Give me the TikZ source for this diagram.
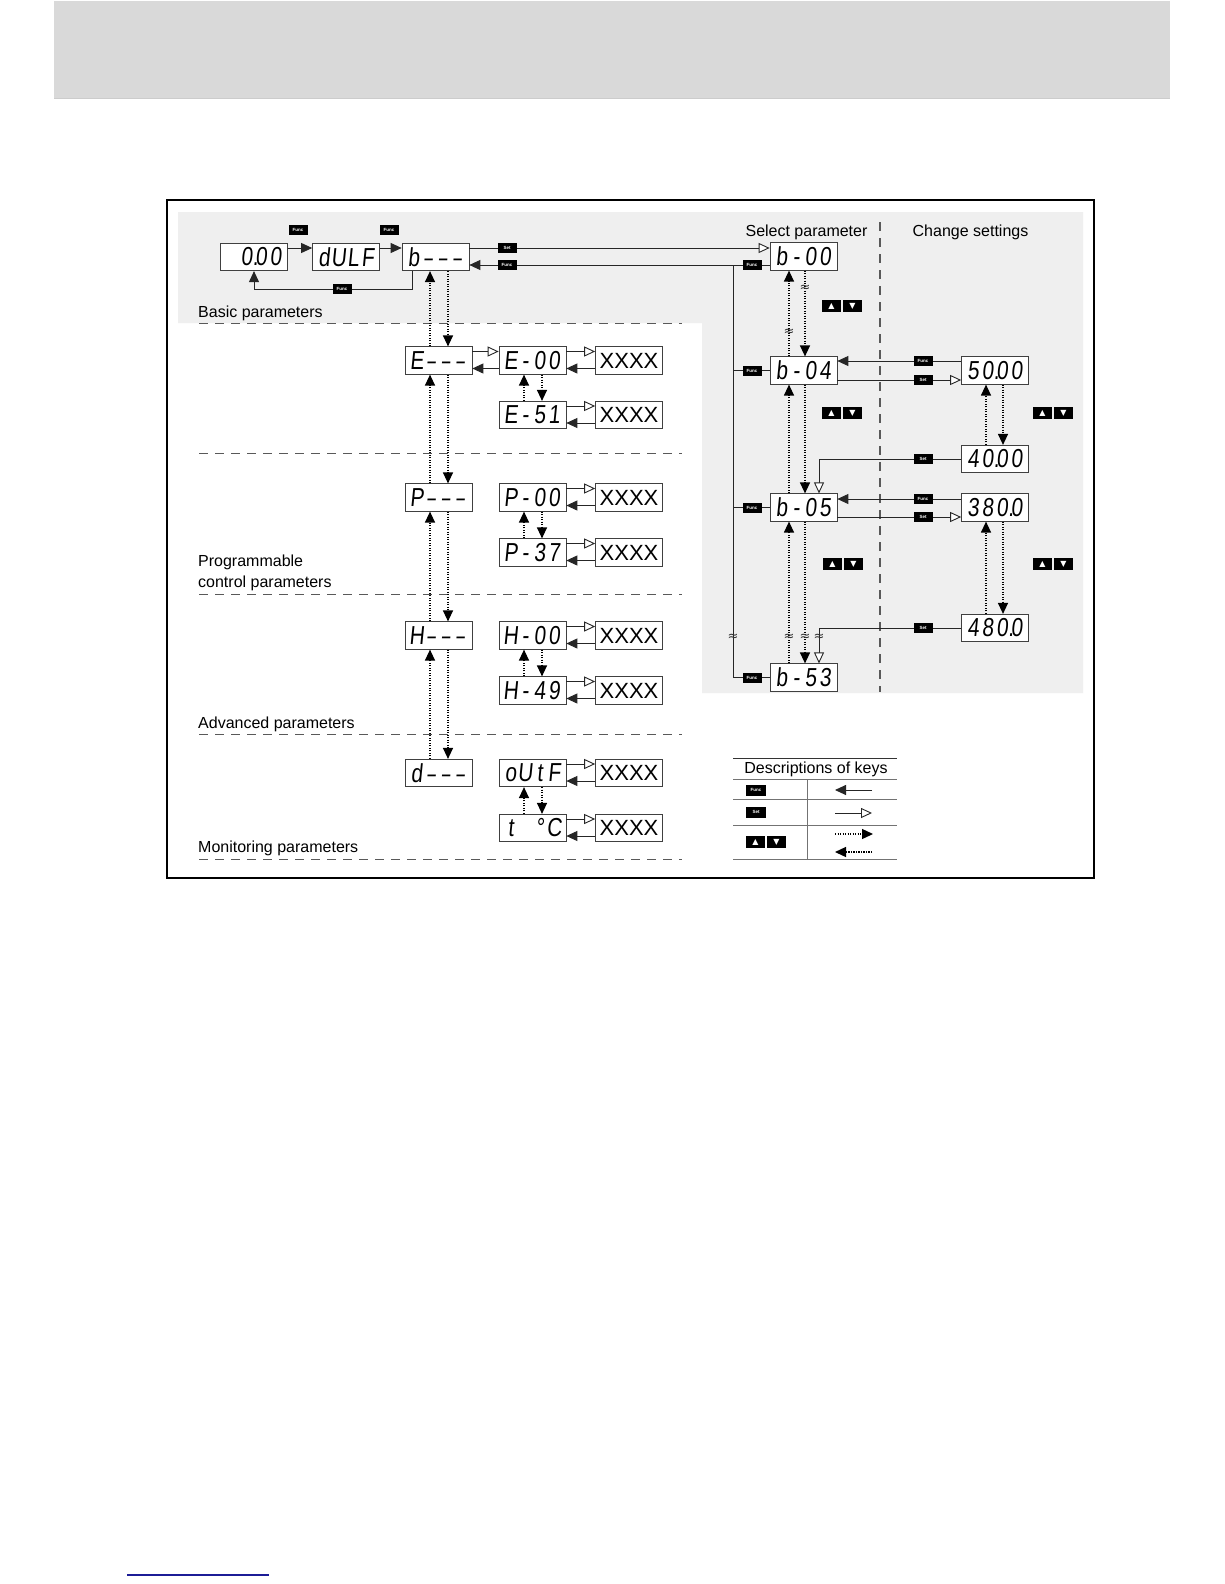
\documentclass[tikz,border=0pt]{standalone}
\usepackage{fontspec}
\setmainfont{Liberation Sans}
\newfontfamily\ledfnt[FakeSlant=0.1,FakeStretch=0.8]{Liberation Sans}
\newfontfamily\symfnt{DejaVu Sans}
\usetikzlibrary{arrows.meta}
\definecolor{hdrgray}{HTML}{D9D9D9}
\definecolor{panelgray}{HTML}{EFEFEF}
\definecolor{linkblue}{HTML}{1C1C96}
\newcommand\seg[4]{\makebox[14.5pt]{#1}\makebox[14.5pt]{#2}\makebox[14.5pt]{#3}\makebox[14.5pt]{#4}}
\newcommand\sd{\scalebox{0.72}[1]{–}}
\begin{document}
\begin{tikzpicture}[x={(1pt,0pt)},y={(0pt,-1pt)},
 led/.style={draw=black!75, line width=0.7pt, fill=white, minimum width=67pt, minimum height=27.5pt, inner sep=0pt, font=\ledfnt\fontsize{26}{26}\selectfont},
 xbox/.style={led, font=\fontsize{22}{22}\selectfont},
 tag/.style={fill=black, text=white, minimum width=19pt, minimum height=10pt, inner sep=0pt, font=\fontsize{4.5}{4.5}\selectfont\bfseries},
 keybtn/.style={fill=black, text=white, minimum width=19pt, minimum height=12pt, inner sep=0pt, font=\symfnt\fontsize{8}{8}\selectfont},
 lbl/.style={font=\fontsize{16}{20}\selectfont, inner sep=0pt},
 conn/.style={line width=0.9pt, draw=black!85},
 fa/.style={conn, -{Triangle[length=11pt,width=10pt]}},
 sa/.style={conn, -{Triangle[open,length=11pt,width=10pt,fill=white]}},
 da/.style={line width=1.3pt, dash pattern=on 1.2pt off 1.3pt, -{Triangle[length=11pt,width=10pt]}},
 sepline/.style={line width=1pt, draw=black!65, dash pattern=on 9pt off 7pt},
 sq/.style={font=\symfnt\fontsize{13}{13}\selectfont, inner sep=0pt, text=black!80},
]
\useasboundingbox (0,0) rectangle (1224,1584);
\fill[white] (0,0) rectangle (1224,1584);
\fill[hdrgray] (54,1) rectangle (1170,98);
\draw[black!20] (54,98) -- (1170,98);
\draw[linkblue, line width=1.2pt] (127,1575) -- (269,1575);
\fill[panelgray] (178,212) -- (1083,212) -- (1083,693) -- (702,693) -- (702,323) -- (178,323) -- cycle;
\draw[line width=1.4pt] (167,200) rectangle (1094,878);

% separators
\foreach \yy in {323,453,594,734,859} \draw[sepline] (199,\yy) -- (682,\yy);
\draw[sepline, line width=1.3pt] (880,222) -- (880,692);

% labels
\node[lbl, anchor=base west] (lbasic) at (198,317) {Basic parameters};
\node[lbl, anchor=base west] (lprog1) at (198,566.5) {Programmable};
\node[lbl, anchor=base west] (lprog2) at (198,587) {control parameters};
\node[lbl, anchor=base west] (ladv) at (198,728) {Advanced parameters};
\node[lbl, anchor=base west] (lmon) at (198,852) {Monitoring parameters};
\node[lbl, anchor=base] (lsel) at (806.5,236) {Select parameter};
\node[lbl, anchor=base] (lchg) at (970.5,236) {Change settings};

% LED displays
\node[led] (n000) at (254,257) {\seg{}{0\rlap{.}}{0}{0}};
\node[led] (ndulf) at (346,257) {\seg{d}{U}{L}{F}};
\node[led] (nb) at (435.5,257) {\seg{b}{\sd}{\sd}{\sd}};

\node[led] (nE) at (438.5,360.5) {\seg{E}{\sd}{\sd}{\sd}};
\node[led] (nE00) at (532.5,360.5) {\seg{E}{-}{0}{0}};
\node[xbox] (xE00) at (629,360.5) {XXXX};
\node[led] (nE51) at (532.5,415) {\seg{E}{-}{5}{1}};
\node[xbox] (xE51) at (629,415) {XXXX};

\node[led] (nP) at (438.5,497.5) {\seg{P}{\sd}{\sd}{\sd}};
\node[led] (nP00) at (532.5,497.5) {\seg{P}{-}{0}{0}};
\node[xbox] (xP00) at (629,497.5) {XXXX};
\node[led] (nP37) at (532.5,552.5) {\seg{P}{-}{3}{7}};
\node[xbox] (xP37) at (629,552.5) {XXXX};

\node[led] (nH) at (438.5,635.5) {\seg{H}{\sd}{\sd}{\sd}};
\node[led] (nH00) at (532.5,635.5) {\seg{H}{-}{0}{0}};
\node[xbox] (xH00) at (629,635.5) {XXXX};
\node[led] (nH49) at (532.5,690.5) {\seg{H}{-}{4}{9}};
\node[xbox] (xH49) at (629,690.5) {XXXX};

\node[led] (nd) at (438.5,773) {\seg{d}{\sd}{\sd}{\sd}};
\node[led] (noutf) at (532.5,773) {\seg{o}{U}{t}{F}};
\node[xbox] (xoutf) at (629,773) {XXXX};
\node[led] (nt) at (532.5,828) {\seg{t}{}{°}{C}};
\node[xbox] (xt) at (629,828) {XXXX};

\node[led] (b00) at (803.5,256.5) {\seg{b}{-}{0}{0}};
\node[led] (b04) at (803.5,370.5) {\seg{b}{-}{0}{4}};
\node[led] (b05) at (803.5,507.5) {\seg{b}{-}{0}{5}};
\node[led] (b53) at (803.5,677.5) {\seg{b}{-}{5}{3}};
\node[led] (v5000) at (995,370.5) {\seg{5}{0\rlap{.}}{0}{0}};
\node[led] (v4000) at (995,459) {\seg{4}{0\rlap{.}}{0}{0}};
\node[led] (v3800) at (995,507.5) {\seg{3}{8}{0\rlap{.}}{0}};
\node[led] (v4800) at (995,628) {\seg{4}{8}{0\rlap{.}}{0}};

% top row connectors
\draw[fa] (n000.east |- 0,248) -- (ndulf.west |- 0,248);
\draw[fa] (ndulf.east |- 0,248) -- (nb.west |- 0,248);
\draw[fa] (nb.south -| 412,0) -- (412,289) -| (n000.south);
\draw[sa] (nb.east |- 0,248) -- (b00.west |- 0,248);
\draw[fa] (b00.west |- 0,265) -- (nb.east |- 0,265);
\draw[conn] (733,265) -- (733,677.5) -- (b53.west);
\draw[conn] (733,370.5) -- (b04.west);
\draw[conn] (733,507.5) -- (b05.west);

% left column
\foreach \u/\l in {nb/nE, nE/nP, nP/nH, nH/nd} {
  \draw[da] (\l.north -| 430,0) -- (\u.south -| 430,0);
  \draw[da] (\u.south -| 448,0) -- (\l.north -| 448,0);
}
\draw[sa] ([yshift=9pt]nE.east) -- ([yshift=9pt]nE00.west);
\draw[fa] ([yshift=-8pt]nE00.west) -- ([yshift=-8pt]nE.east);
\foreach \p/\x in {nE00/xE00, nE51/xE51, nP00/xP00, nP37/xP37, nH00/xH00, nH49/xH49, noutf/xoutf, nt/xt} {
  \draw[sa] ([yshift=9pt]\p.east) -- ([yshift=9pt]\x.west);
  \draw[fa] ([yshift=-8pt]\x.west) -- ([yshift=-8pt]\p.east);
}
\foreach \a/\b in {nE00/nE51, nP00/nP37, nH00/nH49, noutf/nt} {
  \draw[da] (\b.north -| 524,0) -- (\a.south -| 524,0);
  \draw[da] (\a.south -| 542,0) -- (\b.north -| 542,0);
}

% right column
\foreach \u/\l in {b00/b04, b04/b05, b05/b53} {
  \draw[da] (\l.north -| 789,0) -- (\u.south -| 789,0);
  \draw[da] (\u.south -| 805,0) -- (\l.north -| 805,0);
}
\draw[fa] (v5000.west |- 0,361) -- (b04.east |- 0,361);
\draw[sa] (b04.east |- 0,380) -- (v5000.west |- 0,380);
\draw[fa] (v3800.west |- 0,499) -- (b05.east |- 0,499);
\draw[sa] (b05.east |- 0,517) -- (v3800.west |- 0,517);
\draw[da] (v4000.north -| 986,0) -- (v5000.south -| 986,0);
\draw[da] (v5000.south -| 1003,0) -- (v4000.north -| 1003,0);
\draw[da] (v4800.north -| 986,0) -- (v3800.south -| 986,0);
\draw[da] (v3800.south -| 1003,0) -- (v4800.north -| 1003,0);
\draw[sa] (v4000.west) -- (819,459) -- (b05.north -| 819,0);
\draw[sa] (v4800.west) -- (819,628) -- (b53.north -| 819,0);

% break marks
\node[sq] (sq1) at (805,288) {≈};
\node[sq] (sq2) at (789,332) {≈};
\node[sq] (sq3) at (733,637) {≈};
\node[sq] (sq4) at (789,637) {≈};
\node[sq] (sq5) at (805,637) {≈};
\node[sq] (sq6) at (819,637) {≈};

% key tags
\node[tag] (tg1) at (298,230) {Func};
\node[tag] (tg2) at (389,230) {Func};
\node[tag] (tg3) at (342,289) {Func};
\node[tag] (tg4) at (507,248) {Set};
\node[tag] (tg5) at (507,265) {Func};
\node[tag] (tg6) at (752,265) {Func};
\node[tag] (tg7) at (752,370.5) {Func};
\node[tag] (tg8) at (752,507.5) {Func};
\node[tag] (tg9) at (752,677.5) {Func};
\node[tag] (tg10) at (923,361) {Func};
\node[tag] (tg11) at (923,380) {Set};
\node[tag] (tg12) at (923,459) {Set};
\node[tag] (tg13) at (923,499) {Func};
\node[tag] (tg14) at (923,517) {Set};
\node[tag] (tg15) at (923,628) {Set};

% up/down keys
\foreach \n/\cx/\cy in {k1/842/306, k2/842/413, k3/843/564, k4/1053/413, k5/1053/564, k6/766/842} {
  \node[keybtn] (\n u) at (\cx-10.5,\cy) {▲};
  \node[keybtn] (\n d) at (\cx+10.5,\cy) {▼};
}

% legend
\draw[black!80, line width=0.8pt] (733,758) -- (897,758);
\node[lbl, anchor=base] (ldesc) at (816,773) {Descriptions of keys};
\foreach \yy in {779,799,825,859} \draw[black!55, line width=0.6pt] (733,\yy) -- (897,\yy);
\draw[black!55, line width=0.6pt] (807,779) -- (807,859);
\node[tag, minimum width=20pt, minimum height=11pt] (lgf) at (756,790) {Func};
\node[tag, minimum width=20pt, minimum height=11pt] (lgs) at (756,812) {Set};
\coordinate (la1) at (872,790); \coordinate (la2) at (835,790);
\coordinate (lb1) at (835,813); \coordinate (lb2) at (872,813);
\coordinate (lc1) at (835,834); \coordinate (lc2) at (873,834);
\coordinate (ld1) at (872,852); \coordinate (ld2) at (835,852);
\draw[fa] (la1) -- (la2);
\draw[sa] (lb1) -- (lb2);
\draw[da] (lc1) -- (lc2);
\draw[da] (ld1) -- (ld2);
\end{tikzpicture}
\end{document}
